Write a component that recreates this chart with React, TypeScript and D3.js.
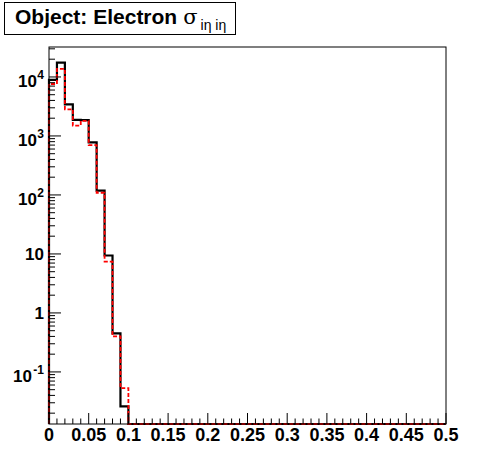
import React from 'react';
import * as d3 from 'd3';

// histogram: 50 bins of 0.01 between 0 and 0.5
const xRange = [0, 0.5];
const binWidth = 0.01;
const blackCounts = [
  8900, 17500, 3440, 1870, 1850, 780, 118, 9.4, 0.45, 0.026,
  0, 0, 0, 0, 0, 0, 0, 0, 0, 0,
  0, 0, 0, 0, 0, 0, 0, 0, 0, 0,
  0, 0, 0, 0, 0, 0, 0, 0, 0, 0,
  0, 0, 0, 0, 0, 0, 0, 0, 0, 0,
];
const redCounts = [
  7600, 13700, 2830, 1500, 1800, 700, 109, 7.4, 0.4, 0.053,
  0, 0, 0, 0, 0, 0, 0, 0, 0, 0,
  0, 0, 0, 0, 0, 0, 0, 0, 0, 0,
  0, 0, 0, 0, 0, 0, 0, 0, 0, 0,
  0, 0, 0, 0, 0, 0, 0, 0, 0, 0,
];
const xTickLabels = ['0', '0.05', '0.1', '0.15', '0.2', '0.25', '0.3', '0.35', '0.4', '0.45', '0.5'];
const yTickValues = [0.1, 1, 10, 100, 1000, 10000];
const yTickText: [string, string][] = [['10', '-1'], ['1', ''], ['10', ''], ['10', '2'], ['10', '3'], ['10', '4']];
const yDomain = [0.0131, 32200];

const W = 496, H = 472;
const left = 49, right = 446, top = 47, bottom = 424;
const font = '"Liberation Sans", Arial, Helvetica, sans-serif';

function stepPath(counts: number[], x: d3.ScaleLinear<number, number>, y: d3.ScaleLogarithmic<number, number>) {
  const pts: [number, number][] = [[x(0), bottom]];
  counts.forEach((c, i) => {
    const yy = c > 0 ? y(c) : bottom;
    pts.push([x(i * binWidth), yy]);
    pts.push([x((i + 1) * binWidth), yy]);
  });
  return d3.line()(pts) as string;
}

export default function App() {
  const x = d3.scaleLinear().domain(xRange).range([left, right]);
  const y = d3.scaleLog().domain(yDomain).range([bottom, top]).clamp(true);

  const xMinor = d3.range(0, 51).map((i) => i * binWidth);
  const yMinor: number[] = [];
  for (let e = -2; e <= 4; e++) {
    for (let m = 2; m <= 9; m++) {
      const v = m * Math.pow(10, e);
      if (v > yDomain[0] && v < yDomain[1]) yMinor.push(v);
    }
  }

  return (
    <svg width={W} height={H} style={{ position: 'absolute', left: 0, top: 0, background: '#fff' }}>
      <rect x={0} y={0} width={W} height={H} fill="#fff" />
      {/* title box */}
      <rect x={4.5} y={2.5} width={231} height={32} fill="#fff" stroke="#000" strokeWidth={1} />
      <text x={15} y={24} fontFamily={font} fontWeight="bold" fontSize={21} fill="#000">
        Object: Electron
        <tspan dx={6} fontWeight="normal" fontSize={21} fontFamily='"DejaVu Serif", serif'>σ</tspan>
        <tspan dx={3} dy={6} fontWeight="normal" fontSize={14}>iη iη</tspan>
      </text>

      {/* histograms */}
      <path d={stepPath(blackCounts, x, y)} fill="none" stroke="#000" strokeWidth={2.2} />
      <path d={stepPath(redCounts, x, y)} fill="none" stroke="#ff0000" strokeWidth={1.8} strokeDasharray="4,2" />

      {/* frame */}
      <rect x={left} y={top} width={right - left} height={bottom - top} fill="none" stroke="#000" strokeWidth={1} />

      {/* x ticks */}
      {xMinor.map((v, i) => (
        <line key={'xm' + i} x1={x(v)} x2={x(v)} y1={bottom} y2={bottom - (i % 5 === 0 ? 11 : 5.5)} stroke="#000" />
      ))}
      {xTickLabels.map((t, i) => (
        <text key={'xl' + i} x={x(i * 0.05)} y={441} textAnchor="middle" fontFamily={font} fontWeight="bold" fontSize={18}>
          {t}
        </text>
      ))}

      {/* y ticks */}
      {yMinor.map((v, i) => (
        <line key={'ym' + i} x1={left} x2={left + 6} y1={y(v)} y2={y(v)} stroke="#000" />
      ))}
      {yTickValues.map((v, i) => (
        <line key={'yM' + i} x1={left} x2={left + 12} y1={y(v)} y2={y(v)} stroke="#000" />
      ))}
      {yTickValues.map((v, i) => {
        const [base, exp] = yTickText[i];
        return (
          <text key={'yl' + i} x={exp ? 44 - (exp.length > 1 ? 12 : 7) : 44} y={y(v) + (exp ? 10 : 6)} textAnchor="end" fontFamily={font} fontWeight="bold" fontSize={17}>
            {base}
            {exp && (
              <tspan x={44} textAnchor="end" dy={-8} fontSize={12}>
                {exp}
              </tspan>
            )}
          </text>
        );
      })}
    </svg>
  );
}
